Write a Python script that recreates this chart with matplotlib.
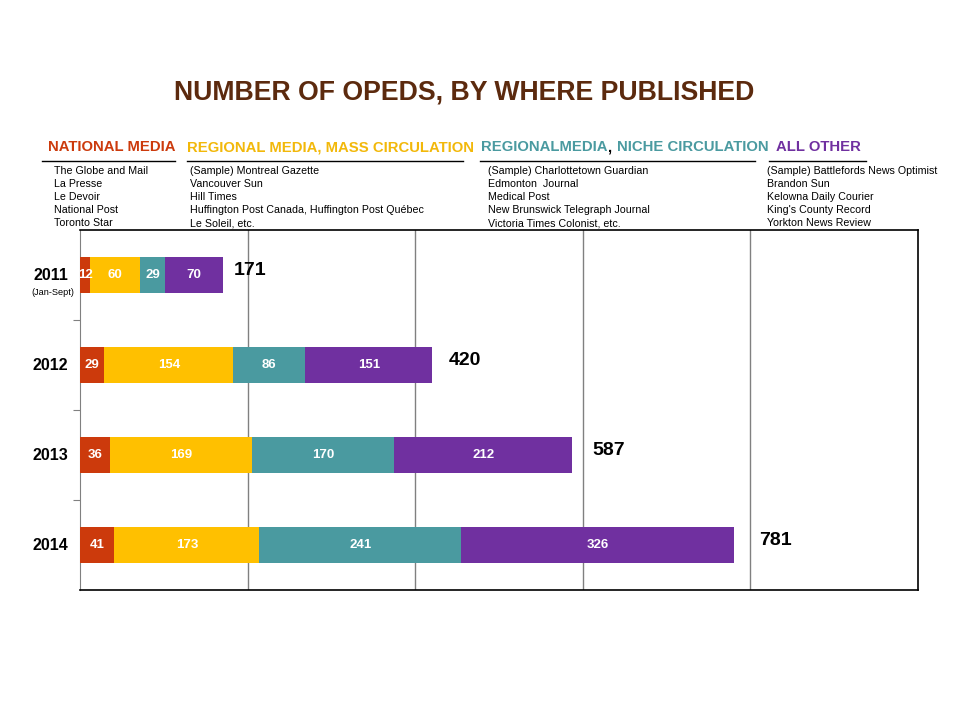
import matplotlib.pyplot as plt
import numpy as np

plt.rcParams['font.family'] = ['Liberation Sans', 'DejaVu Sans']

# Data
years = ['2011', '2012', '2013', '2014']
national = [12, 29, 36, 41]
regional_mass = [60, 154, 169, 173]
regional_niche = [29, 86, 170, 241]
all_other = [70, 151, 212, 326]

series = [national, regional_mass, regional_niche, all_other]
colors = ['#CC3A0C', '#FFC000', '#4A9AA0', '#7030A0']

headings = ['NATIONAL MEDIA', 'REGIONAL MEDIA, MASS CIRCULATION',
            'REGIONALMEDIA', 'NICHE CIRCULATION', 'ALL OTHER']
outlets = [
    ['The Globe and Mail', 'La Presse', 'Le Devoir', 'National Post', 'Toronto Star'],
    ['(Sample) Montreal Gazette', 'Vancouver Sun', 'Hill Times',
     'Huffington Post Canada, Huffington Post Québec', 'Le Soleil, etc.'],
    ['(Sample) Charlottetown Guardian', 'Edmonton  Journal', 'Medical Post',
     'New Brunswick Telegraph Journal', 'Victoria Times Colonist, etc.'],
    ['(Sample) Battlefords News Optimist', 'Brandon Sun', 'Kelowna Daily Courier',
     "King's County Record", 'Yorkton News Review'],
]

W, H = 960, 720
fig = plt.figure(figsize=(9.6, 7.2), dpi=100)
fig.patch.set_facecolor('white')


def px(x, y):
    return x / W, 1 - y / H


ax = fig.add_axes([80 / W, 1 - 590 / H, (918 - 80) / W, (590 - 230) / H])

ypos = np.arange(len(years))
left = np.zeros(len(years))
for vals, col in zip(series, colors):
    bars = ax.barh(ypos, vals, left=left, height=0.4, color=col,
                   edgecolor='none', zorder=3)
    for b, v in zip(bars, vals):
        ax.text(b.get_x() + b.get_width() / 2, b.get_y() + b.get_height() / 2,
                str(v), ha='center', va='center', color='white',
                fontsize=9.5, fontweight='bold', zorder=4)
    left += np.array(vals)

# Totals
for y, tot in zip(ypos, left):
    ax.text(tot + 8 + 0.028 * tot, y - 0.05, f'{int(tot)}', ha='left',
            va='center', fontsize=14, fontweight='bold', color='black')

ax.set_xlim(0, 1000)
ax.set_ylim(len(years) - 0.5, -0.5)
ax.set_xticks([200, 400, 600, 800])
ax.xaxis.grid(True, color='#808080', linewidth=1, zorder=0)
ax.tick_params(axis='x', length=0, labelbottom=False)
ax.set_yticks(np.arange(0.5, len(years) - 1, 1.0))
ax.tick_params(axis='y', length=5, color='#808080', labelleft=False)
for s in ['top', 'right', 'bottom']:
    ax.spines[s].set_color('black')
    ax.spines[s].set_linewidth(1.2)
ax.spines['left'].set_color('#808080')

# Year labels
for y, yr in zip(ypos, years):
    ax.text(-0.014, y, yr, transform=ax.get_yaxis_transform(), ha='right',
            va='center', fontsize=11.5, fontweight='bold')
ax.text(-0.032, 0.19, '(Jan-Sept)', transform=ax.get_yaxis_transform(),
        ha='center', va='center', fontsize=6.6)

# Title
fig.text(*px(464, 92), 'NUMBER OF OPEDS, BY WHERE PUBLISHED', ha='center',
         va='center', fontsize=19.2, fontweight='bold', color='#5C2A0E')

# Headings
head_x = [48, 187, 481, 776]
head_txt = [headings[0], headings[1], headings[2], headings[4]]
head_col = ['#CC3A0C', '#F2B80A', '#4A9AA0', '#7030A0']
htexts = []
for x, t, c in zip(head_x, head_txt, head_col):
    htexts.append(fig.text(*px(x, 147), t, ha='left', va='center',
                           fontsize=10.7, fontweight='bold', color=c))
comma = ax.annotate(',', xy=(1, 0.5), xycoords=htexts[2], ha='left',
                    va='center', fontsize=10.7, fontweight='bold',
                    color='black', annotation_clip=False)
ax.annotate(headings[3], xy=(1, 0.5), xycoords=comma, xytext=(4, 0),
            textcoords='offset points', ha='left', va='center',
            fontsize=10.7, fontweight='bold', color='#4A9AA0',
            annotation_clip=False)

# Underlines
for x0, x1 in [(42, 175), (187, 463), (480, 755), (769, 866)]:
    fig.add_artist(plt.Line2D([x0 / W, x1 / W], [1 - 161 / H] * 2,
                              color='black', linewidth=1))

# Outlet lists
list_x = [54, 190, 488, 767]
for x, names in zip(list_x, outlets):
    for i, name in enumerate(names):
        fig.text(*px(x, 171 + 13 * i), name, ha='left', va='center',
                 fontsize=7.7, color='black')

fig.savefig('out.png', dpi=100, facecolor='white')
